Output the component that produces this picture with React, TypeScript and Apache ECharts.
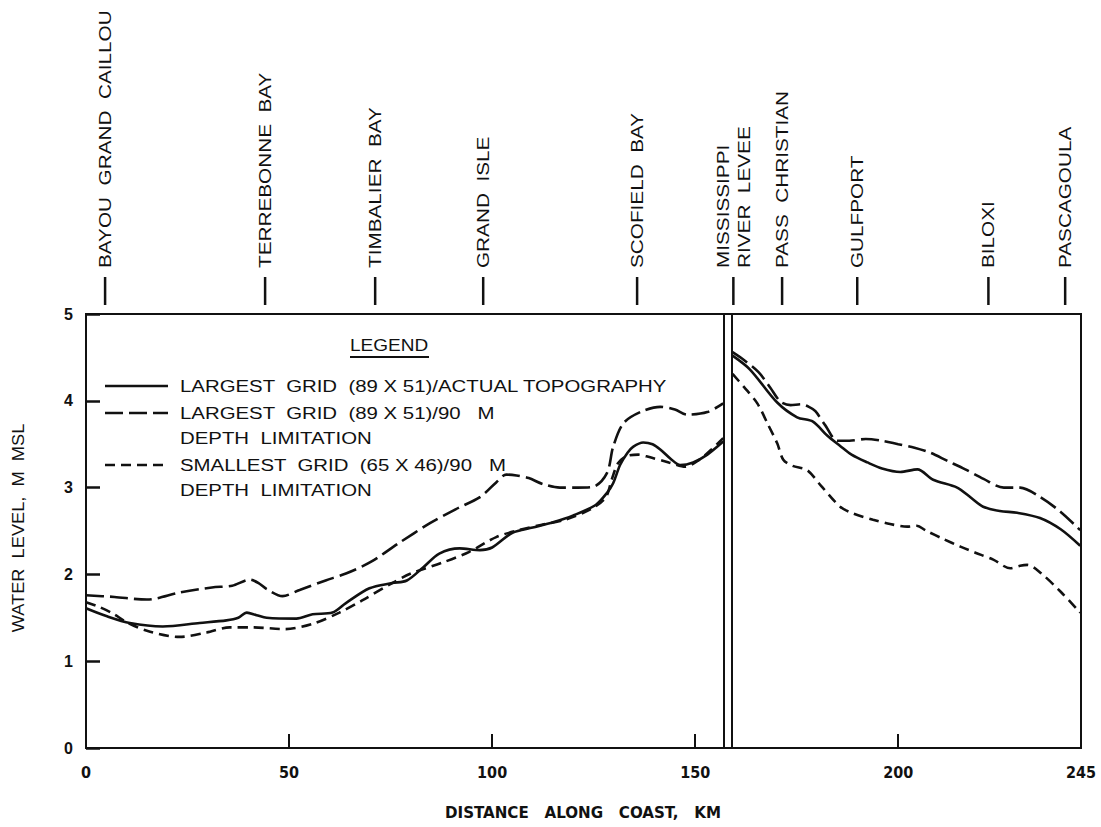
import React, { useEffect, useRef } from "react";
import * as echarts from "echarts";

// ---------- data ----------
const xLabelValues = [0, 50, 100, 150, 200, 245];
const xTickValues = [50, 100, 150, 200];
const yMin = 0;
const yMax = 5;
const xMax = 245;

const placeNames = [
  "BAYOU  GRAND  CAILLOU",
  "TERREBONNE  BAY",
  "TIMBALIER  BAY",
  "GRAND  ISLE",
  "SCOFIELD  BAY",
  "MISSISSIPPI\nRIVER  LEVEE",
  "PASS  CHRISTIAN",
  "GULFPORT",
  "BILOXI",
  "PASCAGOULA",
];
const placeKm = [4.7, 44.1, 71.2, 97.8, 135.7, 159.4, 171.4, 189.9, 222.2, 241.1];

const leveeKm = [157, 159];

const seriesNames = [
  "LARGEST  GRID  (89 X 51)/ACTUAL TOPOGRAPHY",
  "LARGEST  GRID  (89 X 51)/90   M\nDEPTH  LIMITATION",
  "SMALLEST  GRID  (65 X 46)/90   M\nDEPTH  LIMITATION",
];

// Largest grid / actual topography (solid)
const actualWest: [number, number][] = [
  [0, 1.61], [5, 1.52], [10.8, 1.44], [18.9, 1.4], [28, 1.44], [34.6, 1.47], [37.5, 1.5],
  [39.6, 1.56], [42, 1.53], [44.5, 1.5], [51.8, 1.49], [55.8, 1.54], [60.7, 1.56], [64, 1.67],
  [69.8, 1.84], [75.4, 1.9], [79, 1.93], [83, 2.08], [87, 2.24], [92, 2.3], [97, 2.28],
  [100, 2.31], [105, 2.48], [110, 2.54], [115, 2.6], [120, 2.68], [125.5, 2.8], [128.3, 2.94],
  [129.8, 3.05], [131.5, 3.26], [133.3, 3.4], [134.7, 3.47], [137.2, 3.52], [139.5, 3.5],
  [141.4, 3.44], [144, 3.33], [146.3, 3.26], [149.5, 3.29], [153, 3.38], [156.9, 3.53],
];
const actualEast: [number, number][] = [
  [159.2, 4.52], [163.5, 4.36], [170.2, 3.98], [175.1, 3.81], [179, 3.76], [182.5, 3.6],
  [185.7, 3.48], [188.5, 3.38], [192.4, 3.29], [196, 3.22], [200.5, 3.18], [204.7, 3.21],
  [208.6, 3.09], [214.5, 3.0], [218, 2.88], [220.9, 2.78], [225, 2.73], [229.3, 2.71],
  [234.9, 2.65], [240, 2.52], [244.8, 2.33],
];

// Largest grid / 90 m depth limitation (long dash)
const largeDepthWest: [number, number][] = [
  [0, 1.76], [7, 1.74], [15, 1.71], [23, 1.79], [31, 1.85], [36, 1.87], [40.3, 1.94],
  [42.5, 1.9], [44.5, 1.83], [48.4, 1.75], [52.6, 1.82], [59, 1.93], [64, 2.01], [70, 2.14],
  [77, 2.36], [84.7, 2.59], [91, 2.75], [97, 2.89], [101, 3.06], [103.5, 3.15], [106, 3.14],
  [109, 3.11], [112.5, 3.04], [116.7, 3.0], [121, 3.0], [124.9, 3.01], [128.3, 3.17],
  [129.8, 3.47], [132.3, 3.74], [136.5, 3.87], [141.4, 3.93], [145, 3.9], [148, 3.84],
  [153, 3.87], [156.9, 3.97],
];
const largeDepthEast: [number, number][] = [
  [159.2, 4.56], [162, 4.47], [165.6, 4.33], [168.5, 4.15], [171, 3.99], [173.5, 3.95],
  [176, 3.96], [178, 3.93], [179.6, 3.88], [182, 3.72], [185, 3.54], [188, 3.54], [192, 3.56],
  [196, 3.54], [200, 3.5], [204, 3.46], [208, 3.4], [212, 3.31], [216.5, 3.21], [221, 3.1],
  [226, 3.0], [230, 3.0], [235, 2.89], [240, 2.72], [244.8, 2.51],
];

// Smallest grid / 90 m depth limitation (short dash)
const smallDepthWest: [number, number][] = [
  [0, 1.68], [3, 1.63], [6.6, 1.55], [10, 1.45], [15, 1.35], [23, 1.28], [29.7, 1.33],
  [35.4, 1.39], [41, 1.39], [49, 1.37], [55.8, 1.43], [62.4, 1.56], [68, 1.7], [75.4, 1.9],
  [80, 2.01], [88, 2.14], [94.4, 2.26], [101, 2.43], [106.6, 2.51], [112, 2.57], [118, 2.63],
  [124.6, 2.76], [128, 2.89], [129.5, 3.1], [131, 3.28], [133, 3.36], [136, 3.38], [138, 3.36],
  [143.5, 3.29], [147.6, 3.24], [151, 3.32], [154, 3.44], [156.9, 3.57],
];
const smallDepthEast: [number, number][] = [
  [159.2, 4.31], [162, 4.16], [165.3, 3.97], [168, 3.72], [170.2, 3.51], [171.7, 3.32],
  [174, 3.25], [177.6, 3.2], [181, 3.02], [185.7, 2.78], [189, 2.7], [193.8, 2.63], [198, 2.58],
  [202.2, 2.55], [204.5, 2.56], [207, 2.5], [211, 2.41], [215.3, 2.32], [219, 2.25],
  [223.4, 2.17], [227.6, 2.07], [230, 2.1], [231.8, 2.11], [235, 2.02], [240, 1.8],
  [244.8, 1.56],
];

// ---------- styles ----------
const INK = "#111";
const TXT_FONT = "'Liberation Sans', Arial, sans-serif";
const NARROW_FONT = "'Liberation Sans Narrow', 'DejaVu Sans Condensed', sans-serif";
const dashes: (number[] | "solid")[] = ["solid", [18, 6], [10, 6]];

const gap = (km: number) => [km, "-"] as any;

export default function App() {
  const ref = useRef<HTMLDivElement>(null);

  useEffect(() => {
    if (!ref.current) return;
    const chart = echarts.init(ref.current, undefined, { renderer: "svg" });

    const seriesData = [
      [...actualWest, gap(158), ...actualEast],
      [...largeDepthWest, gap(158), ...largeDepthEast],
      [...smallDepthWest, gap(158), ...smallDepthEast],
    ];

    const lineSeries = seriesData.map((data, i) => ({
      type: "line",
      name: seriesNames[i],
      data,
      symbol: "none",
      smooth: 0.3,
      connectNulls: false,
      lineStyle: { color: INK, width: 2.6, type: dashes[i] },
      z: 3,
      ...(i === 0
        ? {
            markLine: {
              silent: true,
              symbol: ["none", "none"],
              label: { show: false },
              lineStyle: { color: INK, width: 2, type: "solid" },
              data: leveeKm.map((k) => ({ xAxis: k })),
            },
          }
        : {}),
    }));

    const placeSeries = {
      type: "custom",
      coordinateSystem: "cartesian2d",
      silent: true,
      clip: false,
      z: 10,
      data: placeKm.map((km, i) => [km, yMax, i]),
      encode: { x: 0, y: 1 },
      renderItem: (_params: any, api: any) => {
        const pt = api.coord([api.value(0), api.value(1)]);
        const idx = api.value(2);
        const x = pt[0];
        const top = pt[1];
        return {
          type: "group",
          children: [
            {
              type: "line",
              shape: { x1: x, y1: top - 37, x2: x, y2: top - 9 },
              style: { stroke: INK, lineWidth: 2.5 },
            },
            {
              type: "text",
              x,
              y: top - 46,
              rotation: Math.PI / 2,
              scaleX: 1.22,
              style: {
                text: placeNames[idx],
                fill: INK,
                fontSize: 17,
                fontFamily: TXT_FONT,
                align: "left",
                verticalAlign: "middle",
                lineHeight: 21,
              },
            },
          ],
        };
      },
    };

    // legend drawn as graphic
    const legendRowY = [386, 413, 465];
    const legendGraphics: any[] = [
      {
        type: "text",
        x: 350,
        y: 345,
        scaleX: 1.12,
        style: {
          text: "LEGEND",
          fill: INK,
          fontSize: 17,
          fontFamily: TXT_FONT,
          align: "left",
          verticalAlign: "middle",
        },
      },
      {
        type: "line",
        shape: { x1: 350, y1: 357, x2: 429, y2: 357 },
        style: { stroke: INK, lineWidth: 2 },
      },
    ];
    seriesNames.forEach((name, i) => {
      legendGraphics.push({
        type: "line",
        shape: { x1: 105, y1: legendRowY[i], x2: 168, y2: legendRowY[i] },
        style: {
          stroke: INK,
          lineWidth: 2.6,
          lineDash: dashes[i] === "solid" ? null : dashes[i],
        },
      });
      legendGraphics.push({
        type: "text",
        x: 180,
        y: legendRowY[i] - 12,
        scaleX: 1.2,
        style: {
          text: name,
          fill: INK,
          fontSize: 17,
          fontFamily: TXT_FONT,
          align: "left",
          verticalAlign: "top",
          lineHeight: 25,
        },
      });
    });

    const axisNames: any[] = [
      {
        type: "text",
        x: 18,
        y: 528,
        rotation: Math.PI / 2,
        scaleX: 1.14,
        style: {
          text: "WATER  LEVEL,  M  MSL",
          fill: INK,
          fontSize: 16,
          fontFamily: TXT_FONT,
          align: "center",
          verticalAlign: "middle",
        },
      },
      {
        type: "text",
        x: 583,
        y: 813,
        scaleX: 1.05,
        style: {
          text: "DISTANCE   ALONG   COAST,   KM",
          fill: INK,
          fontSize: 16,
          fontWeight: "bold",
          fontFamily: NARROW_FONT,
          align: "center",
          verticalAlign: "middle",
        },
      },
    ];

    const option: any = {
      animation: false,
      backgroundColor: "#fff",
      grid: {
        left: 86,
        right: 20,
        top: 314,
        bottom: 79,
        show: true,
        borderColor: INK,
        borderWidth: 2,
        backgroundColor: "transparent",
      },
      xAxis: {
        type: "value",
        min: 0,
        max: xMax,
        axisLine: { show: true, onZero: false, lineStyle: { color: INK, width: 2 } },
        axisTick: {
          show: true,
          inside: true,
          length: 14,
          customValues: xTickValues,
          lineStyle: { color: INK, width: 2 },
        },
        axisLabel: {
          customValues: xLabelValues,
          margin: 16,
          color: INK,
          fontSize: 16,
          fontWeight: "bold",
          fontFamily: NARROW_FONT,
        },
        splitLine: { show: false },
      },
      yAxis: {
        type: "value",
        min: yMin,
        max: yMax,
        interval: 1,
        axisLine: { show: true, lineStyle: { color: INK, width: 2 } },
        axisTick: { show: true, inside: true, length: 14, lineStyle: { color: INK, width: 2.5 } },
        axisLabel: {
          margin: 13,
          color: INK,
          fontSize: 16,
          fontWeight: "bold",
          fontFamily: TXT_FONT,
        },
        splitLine: { show: false },
      },
      graphic: [...legendGraphics, ...axisNames],
      series: [...lineSeries, placeSeries],
    };

    chart.setOption(option);
    return () => chart.dispose();
  }, []);

  return (
    <div
      ref={ref}
      style={{ position: "fixed", left: 0, top: 0, width: 1101, height: 827, background: "#fff" }}
    />
  );
}
